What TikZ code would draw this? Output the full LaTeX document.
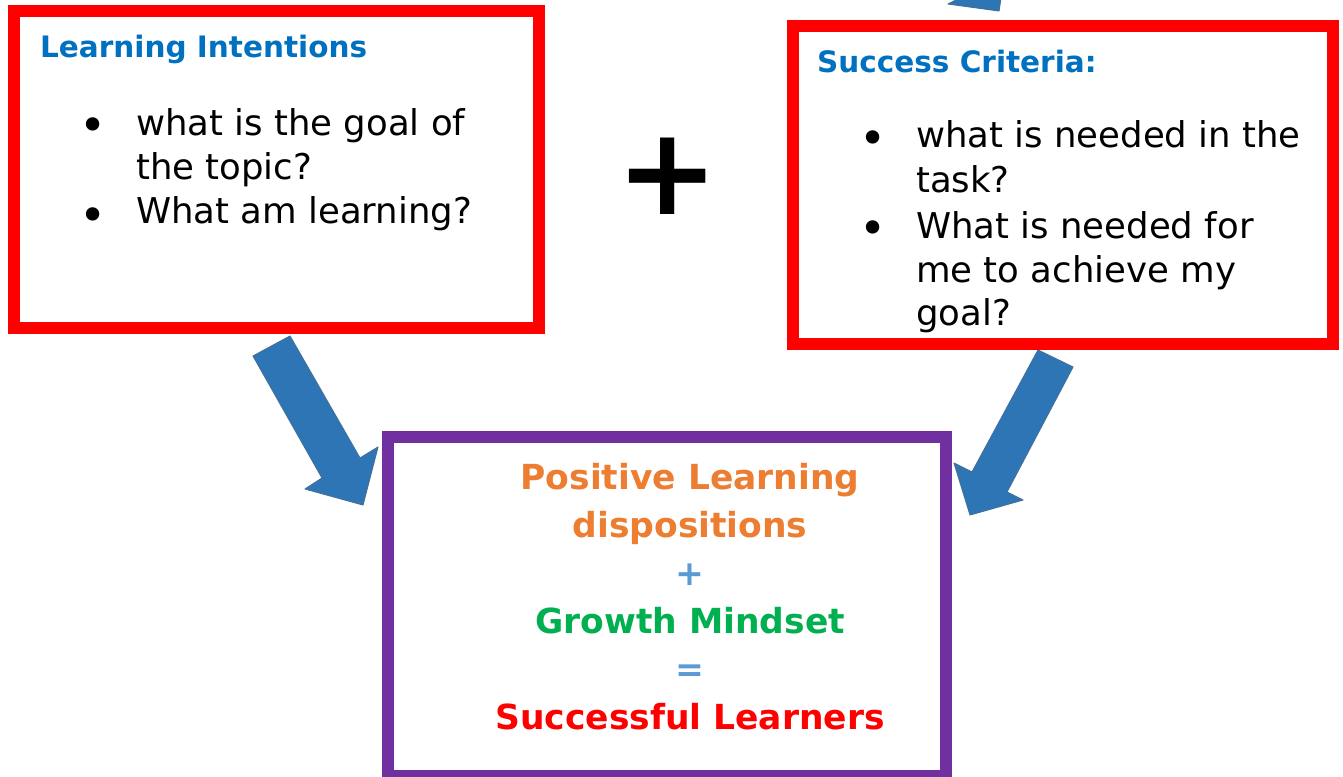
\documentclass[tikz,border=0pt]{standalone}
\usepackage{fontspec}
\setmainfont{DejaVu Sans}
\usepackage{xcolor}

\definecolor{boxred}{HTML}{FF0000}
\definecolor{headblue}{HTML}{0070C0}
\definecolor{arrowblue}{HTML}{2E75B6}
\definecolor{arrowedge}{HTML}{41719C}
\definecolor{purplebox}{HTML}{7030A0}
\definecolor{dispoorange}{HTML}{ED7D31}
\definecolor{mindgreen}{HTML}{00B050}
\definecolor{signblue}{HTML}{5B9BD5}

\tikzset{
	frame/.style={line width=12pt},
	blockarrow/.style={fill=arrowblue, draw=arrowedge, line width=1pt, line join=round},
	head/.style={anchor=base west, inner sep=0, text=headblue, font=\fontsize{29.5}{34}\selectfont\bfseries},
	item/.style={anchor=base west, inner sep=0, font=\fontsize{35.5}{44}\selectfont},
	dot/.style={anchor=center, inner sep=0, font=\fontsize{46}{46}\selectfont},
	result/.style={anchor=base, inner sep=0, font=\fontsize{34.5}{48}\selectfont\bfseries},
}

\begin{document}
\begin{tikzpicture}[x=1pt,y=-1pt]
	\useasboundingbox (0,0) rectangle (1343,776);
	\fill[white] (0,0) rectangle (1343,776);

	% block arrows (the top one is cut by the page edge)
	\filldraw[blockarrow] (960,-2) -- (948,4) -- (999,11) -- (1001,-2) -- cycle;
	\filldraw[blockarrow] (253,356) -- (290,336) -- (360,458) -- (378,447)
		-- (363,505) -- (305,489) -- (322,478) -- cycle;
	\filldraw[blockarrow] (1038,350) -- (1073,367) -- (1007,492) -- (1023,500)
		-- (970,515) -- (954,463) -- (972,472) -- cycle;

	% frames
	\draw[frame, draw=boxred] (14,11) rectangle (539,328);
	\draw[frame, draw=boxred] (793,26) rectangle (1333,344);
	\draw[frame, draw=purplebox] (388,437) rectangle (946,776);

	% learning intentions
	\node[head] (intent) at (40,58) {Learning Intentions};
	\node[dot] (idot1) at (93,130) {•};
	\node[dot] (idot2) at (93,220) {•};
	\node[item] (iline1) at (136,135) {what is the goal of};
	\node[item] (iline2) at (136,179) {the topic?};
	\node[item] (iline3) at (136,223) {What am learning?};

	% big plus
	\node[inner sep=0, font=\fontsize{122}{122}\selectfont\bfseries] (plus) at (668,176) {+};

	% success criteria
	\node[head] (crit) at (817,73) {Success Criteria:};
	\node[dot] (cdot1) at (873,143) {•};
	\node[dot] (cdot2) at (873,233) {•};
	\foreach \txt/\y [count=\i] in {what is needed in the/147, task?/192,
		What is needed for/238, me to achieve my/282, goal?/325} {
		\node[item] (cline\i) at (916,\y) {\txt};
	}

	% result
	\foreach \txt/\col/\y [count=\i] in {Positive Learning/dispoorange/489,
		dispositions/dispoorange/537, +/signblue/585, Growth Mindset/mindgreen/633,
		=/signblue/681, Successful Learners/boxred/729} {
		\node[result, text=\col] (res\i) at (690,\y) {\txt};
	}
\end{tikzpicture}
\end{document}
